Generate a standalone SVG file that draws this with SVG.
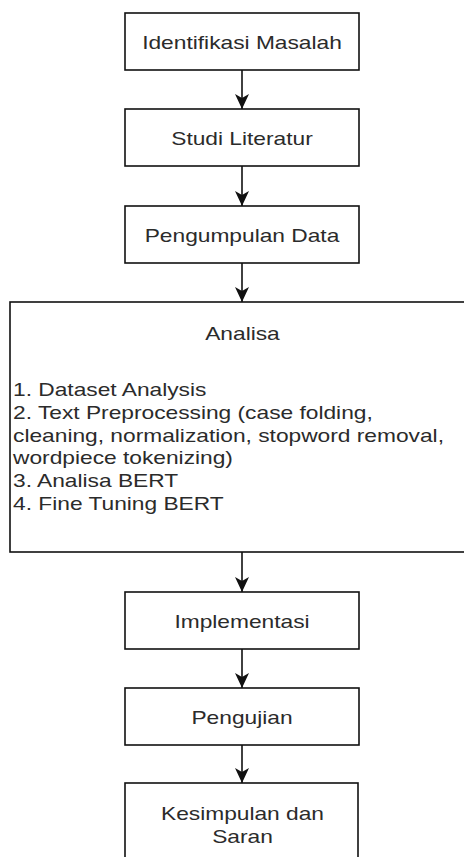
<svg xmlns="http://www.w3.org/2000/svg" width="464" height="857" viewBox="0 0 464 857">
  <style>
    .box { fill: #ffffff; stroke: #111111; stroke-width: 1.6; }
    .lbl { font-family: "Liberation Sans", Arial, sans-serif; font-size: 18.5px; fill: #2b2b2b; }
    .c { text-anchor: middle; }
    .conn { stroke: #111111; stroke-width: 1.6; fill: none; marker-end: url(#arr); }
  </style>
  <defs>
    <marker id="arr" viewBox="-16 -8 17 16" refX="0" refY="0" markerWidth="17" markerHeight="16" markerUnits="userSpaceOnUse" orient="auto">
      <path d="M0,0 L-15,-7 L-11,0 L-15,7 Z" fill="#111111"/>
    </marker>
  </defs>
  <rect width="464" height="857" fill="#ffffff"/>

  <g id="connectors">
    <line class="conn" x1="242" y1="70" x2="242" y2="109"/>
    <line class="conn" x1="242" y1="166" x2="242" y2="206"/>
    <line class="conn" x1="242" y1="263" x2="242" y2="302"/>
    <line class="conn" x1="242" y1="552" x2="242" y2="592"/>
    <line class="conn" x1="242" y1="649" x2="242" y2="688"/>
    <line class="conn" x1="242" y1="745" x2="242" y2="783"/>
  </g>

  <g id="identifikasi">
    <rect class="box" x="125" y="13" width="234" height="57"/>
    <text class="lbl c" transform="scale(1.23,1)" x="196.75" y="49">Identifikasi Masalah</text>
  </g>
  <g id="studi">
    <rect class="box" x="125" y="109" width="234" height="57"/>
    <text class="lbl c" transform="scale(1.23,1)" x="196.75" y="145">Studi Literatur</text>
  </g>
  <g id="pengumpulan">
    <rect class="box" x="125" y="206" width="234" height="57"/>
    <text class="lbl c" transform="scale(1.23,1)" x="196.75" y="242">Pengumpulan Data</text>
  </g>
  <g id="analisa">
    <rect class="box" x="10" y="302" width="470" height="250"/>
    <text class="lbl c" transform="scale(1.23,1)" x="197.15" y="340">Analisa</text>
    <g transform="scale(1.23,1)">
      <text class="lbl" x="10.6" y="396">1. Dataset Analysis</text>
      <text class="lbl" x="10.6" y="418.8">2. Text Preprocessing (case folding,</text>
      <text class="lbl" x="10.6" y="441.6">cleaning, normalization, stopword removal,</text>
      <text class="lbl" x="10.6" y="464.4">wordpiece tokenizing)</text>
      <text class="lbl" x="10.6" y="487.2">3. Analisa BERT</text>
      <text class="lbl" x="10.6" y="510">4. Fine Tuning BERT</text>
    </g>
  </g>
  <g id="implementasi">
    <rect class="box" x="125" y="592" width="234" height="57"/>
    <text class="lbl c" transform="scale(1.23,1)" x="196.75" y="628">Implementasi</text>
  </g>
  <g id="pengujian">
    <rect class="box" x="125" y="688" width="234" height="57"/>
    <text class="lbl c" transform="scale(1.23,1)" x="196.75" y="724">Pengujian</text>
  </g>
  <g id="kesimpulan">
    <rect class="box" x="125" y="783" width="233" height="90"/>
    <text class="lbl c" transform="scale(1.23,1)" x="197.15" y="820">Kesimpulan dan</text>
    <text class="lbl c" transform="scale(1.23,1)" x="197.15" y="843">Saran</text>
  </g>
</svg>
